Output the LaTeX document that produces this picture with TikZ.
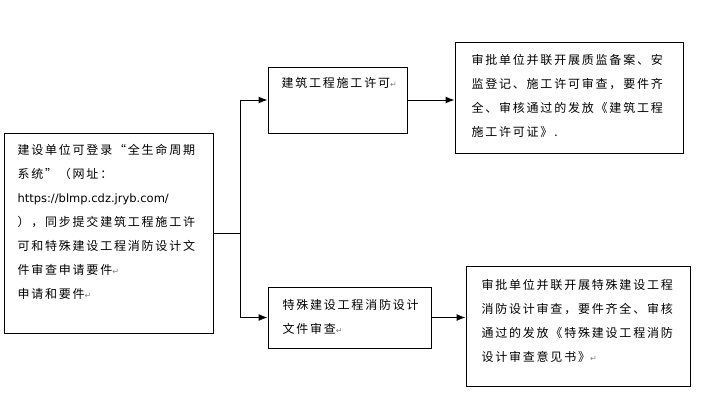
\documentclass[tikz,border=0pt]{standalone}
\usepackage{fontspec}
\setmainfont{Liberation Sans}
\newfontfamily\cjk[LetterSpace=15]{Noto Sans CJK SC}
\newfontfamily\urlfont{DejaVu Sans}
\newfontfamily\symb{DejaVu Sans}
\usetikzlibrary{arrows.meta,positioning}
% paragraph mark as printed in the source
\newcommand{\pmark}{{\color{gray}\symb\fontsize{8}{8}\selectfont ↵}}

\begin{document}
\begin{tikzpicture}[x=1pt,y=-1pt,line width=1pt,
                    >={Latex[length=9pt,width=7pt]},
                    box/.style={draw,inner sep=0pt},
                    txt/.style={anchor=north west,inner sep=0pt,align=left,
                                font=\cjk\fontsize{12}{24}\selectfont}]
  \useasboundingbox (0,0) rectangle (709,400);

  % boxes
  \node[box,minimum width=209,minimum height=200] (apply) at (108.5,233) {};
  \node[box,minimum width=139,minimum height=66] (permit) at (337.5,100) {};
  \node[box,minimum width=228,minimum height=111] (permitok) at (569,97.5) {};
  \node[box,minimum width=163,minimum height=61] (fire) at (349.5,317.5) {};
  \node[box,minimum width=224,minimum height=120] (fireok) at (578,326) {};

  % texts
  \node[txt] (applytext) at (17,144)
    {建设单位可登录“全生命周期\\系统”（网址：\\%
     {\urlfont\fontsize{11.5}{24}\selectfont https://blmp.cdz.jryb.com/}\\%
     ），同步提交建筑工程施工许\\可和特殊建设工程消防设计文\\%
     件审查申请要件\pmark\\申请和要件\pmark};
  \node[txt] (permittext) at (281,77) {建筑工程施工许可\pmark};
  \node[txt] (permitoktext) at (471,54)
    {审批单位并联开展质监备案、安\\监登记、施工许可审查，要件齐\\%
     全、审核通过的发放《建筑工程\\施工许可证》.};
  \node[txt] (firetext) at (282,299) {特殊建设工程消防设计\\文件审查\pmark};
  \node[txt] (fireoktext) at (481,279)
    {审批单位并联开展特殊建设工程\\消防设计审查，要件齐全、审核\\%
     通过的发放《特殊建设工程消防\\设计审查意见书》\pmark};

  % connectors
  \draw (apply.east) -- ++(27,0) coordinate (fork);
  \draw[->] (fork) |- (permit.west);
  \draw[->] (fork) |- (fire.west);
  \draw[->] (permit.east) -- (permit.east -| permitok.west);
  \draw[->] (fire.east) -- (fire.east -| fireok.west);
\end{tikzpicture}
\end{document}
